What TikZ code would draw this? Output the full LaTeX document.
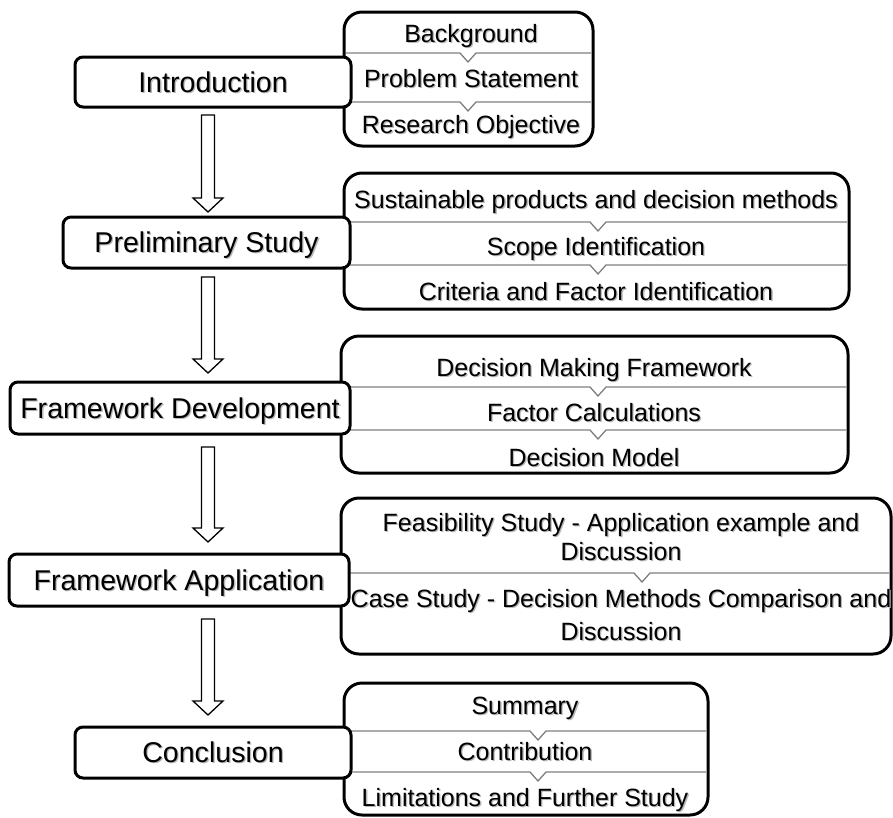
\documentclass[tikz,border=0pt]{standalone}
\usepackage{fontspec}
\setmainfont{Liberation Sans}
\usetikzlibrary{calc}
\newcommand\blockarrow[2]{%
  \draw[blockarr] ($(#1)+(-6.5,0)$) -- ($(#2)+(-6.5,-14)$) -- ($(#2)+(-15,-14)$) -- (#2)
    -- ($(#2)+(15,-14)$) -- ($(#2)+(6.5,-14)$) -- ($(#1)+(6.5,0)$) -- cycle;}
\newcommand\notchline[4]{% y, x-left, x-right, notch x
  \draw[divider] (#2,#1) -- ({#4-8},#1) -- (#4,{#1+9}) -- ({#4+8},#1) -- (#3,#1);}
\newcommand\shtxt[1]{\makebox[0pt][l]{\raisebox{-1.3pt}{\hspace{1.3pt}\textcolor{black!28}{#1}}}#1}
\begin{document}
\begin{tikzpicture}[x=1pt,y=-1pt,
  leftbox/.style={draw=black, line width=3pt, rounded corners=8pt, fill=white,
    inner sep=0pt, text height=20pt, text depth=0pt,
    font=\fontsize{28.6}{32}\selectfont},
  rightbox/.style={draw=black, line width=3pt, rounded corners=18pt, fill=white, inner sep=0pt},
  divider/.style={draw=black!50, line width=1.3pt, line join=miter},
  blockarr/.style={draw=black, line width=1.3pt, fill=white, line join=miter},
  itm/.style={font=\fontsize{25}{28}\selectfont, anchor=base, inner sep=0pt},
]
\useasboundingbox (0,0) rectangle (893,817);

% right bracket boxes
\node[rightbox, minimum width=249pt, minimum height=134pt] (bg) at (468.5,79) {};
\node[rightbox, minimum width=505pt, minimum height=136pt] (sus) at (596.5,241) {};
\node[rightbox, minimum width=507pt, minimum height=137pt] (dec) at (594.5,404.5) {};
\node[rightbox, minimum width=550pt, minimum height=156pt] (fea) at (616,576) {};
\node[rightbox, minimum width=364pt, minimum height=132pt] (sum) at (526,749) {};

% dividers with notches
\notchline{53}{346}{591}{468}
\notchline{102}{346}{591}{468}
\notchline{222}{346}{847}{598}
\notchline{265}{346}{847}{598}
\notchline{387}{343}{846}{598}
\notchline{430}{343}{846}{598}
\notchline{573}{343}{889}{642}
\notchline{731}{346}{706}{538}
\notchline{772}{346}{706}{538}

% left stage boxes
\node[leftbox, minimum width=276pt, minimum height=50pt] (intro) at (213,82) {\shtxt{Introduction}};
\node[leftbox, minimum width=287pt, minimum height=51pt] (prelim) at (206.5,242.5) {\shtxt{Preliminary Study}};
\node[leftbox, minimum width=340pt, minimum height=52pt] (fdev) at (180,408) {\shtxt{Framework Development}};
\node[leftbox, minimum width=340pt, minimum height=52pt] (fapp) at (179,580) {\shtxt{Framework Application}};
\node[leftbox, minimum width=276pt, minimum height=51pt] (concl) at (213,752.5) {\shtxt{Conclusion}};

% block arrows
\coordinate (a1t) at (208,115); \coordinate (a1b) at (208,212);
\coordinate (a2t) at (208,277); \coordinate (a2b) at (208,373);
\coordinate (a3t) at (208,447); \coordinate (a3b) at (208,542);
\coordinate (a4t) at (208,619); \coordinate (a4b) at (208,715);
\blockarrow{a1t}{a1b}
\blockarrow{a2t}{a2b}
\blockarrow{a3t}{a3b}
\blockarrow{a4t}{a4b}

% items
\node[itm] (bg1) at (471,42) {\shtxt{Background}};
\node[itm] (bg2) at (471,87) {\shtxt{Problem Statement}};
\node[itm] (bg3) at (471,133) {\shtxt{Research Objective}};

\node[itm] (sus1) at (596,208) {\shtxt{Sustainable products and decision methods}};
\node[itm] (sus2) at (596,255) {\shtxt{Scope Identification}};
\node[itm] (sus3) at (596,300) {\shtxt{Criteria and Factor Identification}};

\node[itm] (dec1) at (594,376) {\shtxt{Decision Making Framework}};
\node[itm] (dec2) at (594,421) {\shtxt{Factor Calculations}};
\node[itm] (dec3) at (594,466) {\shtxt{Decision Model}};

\node[itm] (fea1) at (621,531) {\shtxt{Feasibility Study - Application example and}};
\node[itm] (fea2) at (621,560) {\shtxt{Discussion}};
\node[itm] (fea3) at (621,607) {\shtxt{Case Study - Decision Methods Comparison and}};
\node[itm] (fea4) at (621,640) {\shtxt{Discussion}};

\node[itm] (sum1) at (525,714) {\shtxt{Summary}};
\node[itm] (sum2) at (525,760) {\shtxt{Contribution}};
\node[itm] (sum3) at (525,806) {\shtxt{Limitations and Further Study}};
\end{tikzpicture}
\end{document}
